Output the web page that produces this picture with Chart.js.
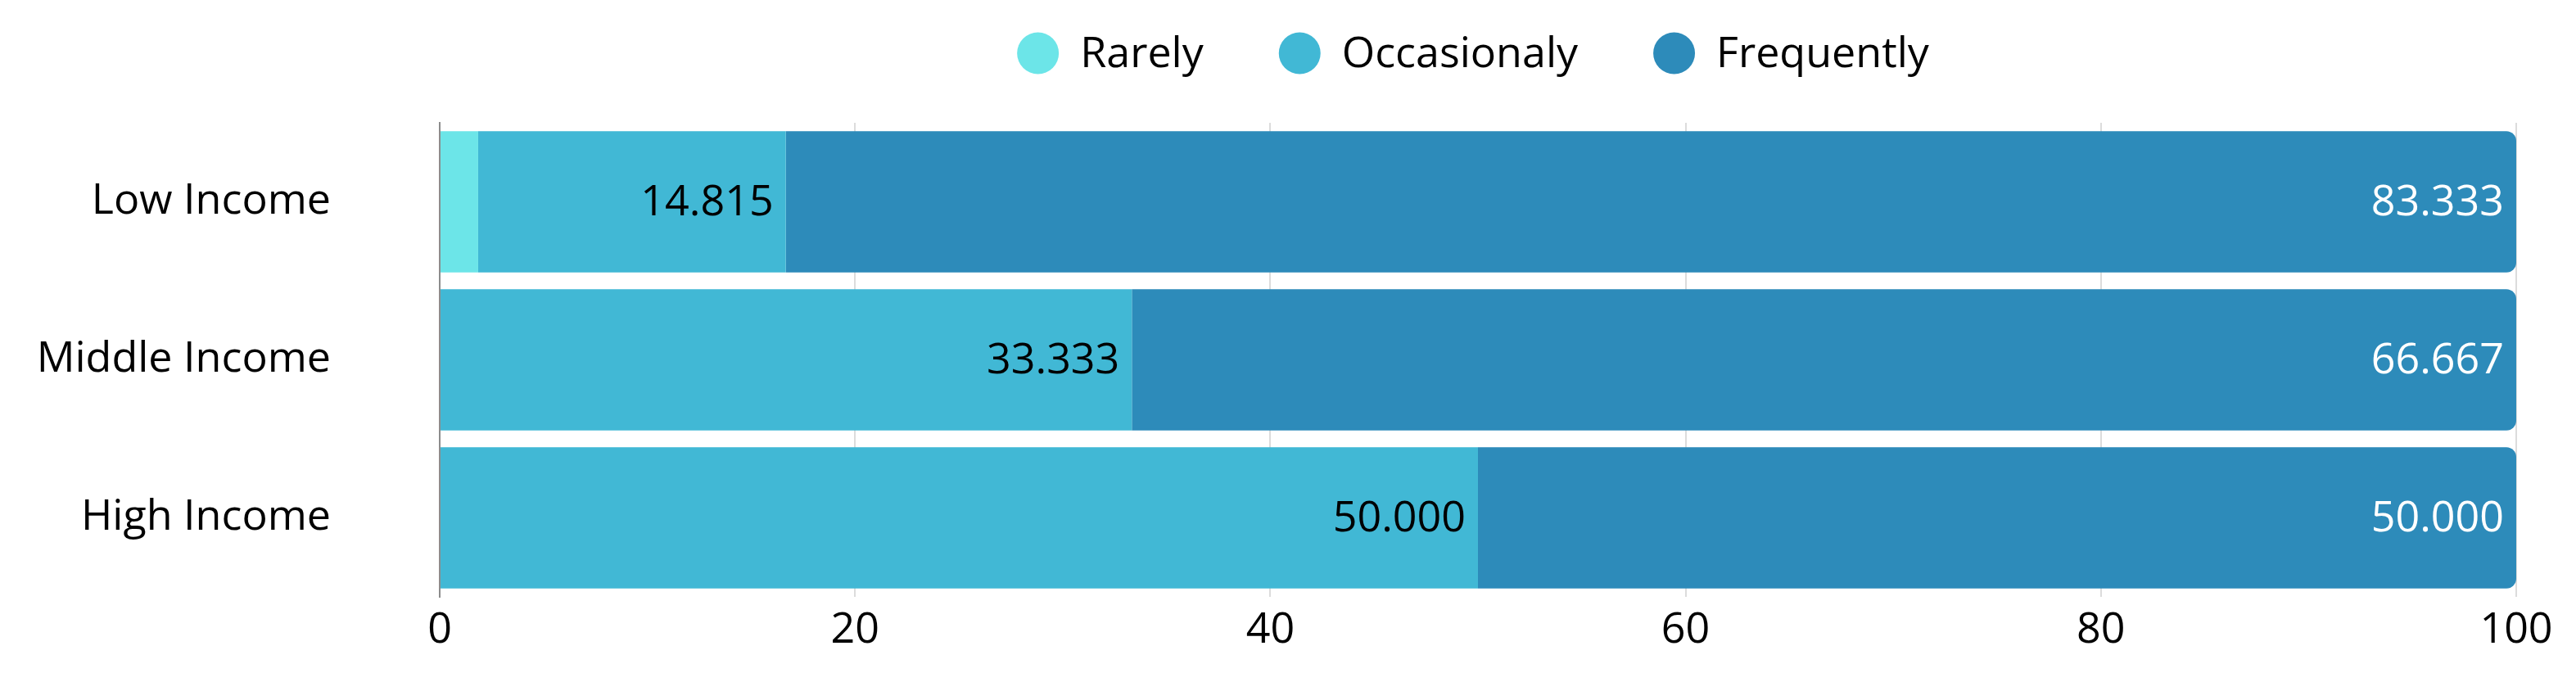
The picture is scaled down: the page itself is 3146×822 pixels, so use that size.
<!DOCTYPE html>
<html>
<head>
<meta charset="utf-8">
<script src="https://cdn.jsdelivr.net/npm/chart.js@4/dist/chart.umd.min.js"></script>
<style>
  html, body { margin: 0; padding: 0; background: #ffffff; }
  #wrap { width: 3146px; height: 822px; }
</style>
</head>
<body>
<div id="wrap"><canvas id="c" width="3146" height="822"></canvas></div>
<script>
const categories = ['Low Income', 'Middle Income', 'High Income'];
const seriesNames = ['Rarely', 'Occasionaly', 'Frequently'];
const rarely = [1.852, 0, 0];
const occasionaly = [14.815, 33.333, 50.000];
const frequently = [83.333, 66.667, 50.000];
const xTicks = [0, 20, 40, 60, 80, 100];

const colors = ['#6CE5E8', '#41B8D5', '#2D8BBA'];
const labelColors = [null, '#000000', '#ffffff'];
const FONT = '"Open Sans", sans-serif';
const FS = 52;

const valueLabels = {
  id: 'valueLabels',
  afterDatasetsDraw(chart) {
    const ctx = chart.ctx;
    ctx.save();
    ctx.font = FS + 'px ' + FONT;
    ctx.textAlign = 'right';
    ctx.textBaseline = 'middle';
    chart.data.datasets.forEach((ds, di) => {
      const col = labelColors[di];
      if (!col) return;
      const meta = chart.getDatasetMeta(di);
      meta.data.forEach((el, i) => {
        const v = ds.data[i];
        if (!v) return;
        ctx.fillStyle = col;
        ctx.fillText(v.toFixed(3), el.x - 15, el.y + 2);
      });
    });
    ctx.restore();
  }
};

const customLegend = {
  id: 'customLegend',
  afterDraw(chart) {
    const ctx = chart.ctx;
    const area = chart.chartArea;
    ctx.save();
    ctx.font = FS + 'px ' + FONT;
    const r = 25.5, gapText = 26, gapItem = 92;
    const items = chart.data.datasets.map(ds => ({
      text: ds.label, color: ds.backgroundColor, w: ctx.measureText(ds.label).width
    }));
    let total = 0;
    items.forEach((it, i) => { total += 2 * r + gapText + it.w + (i < items.length - 1 ? gapItem : 0); });
    let x = (area.left + area.right) / 2 - 6 - total / 2;
    const cy = 65;
    items.forEach(it => {
      ctx.beginPath();
      ctx.fillStyle = it.color;
      ctx.arc(x + r, cy, r, 0, Math.PI * 2);
      ctx.fill();
      ctx.fillStyle = '#000000';
      ctx.textAlign = 'left';
      ctx.textBaseline = 'middle';
      ctx.fillText(it.text, x + 2 * r + gapText, cy + 2);
      x += 2 * r + gapText + it.w + gapItem;
    });
    ctx.restore();
  }
};

const seriesData = [rarely, occasionaly, frequently];

new Chart(document.getElementById('c'), {
  type: 'bar',
  data: {
    labels: categories,
    datasets: seriesNames.map((name, i) => ({
      label: name,
      data: seriesData[i],
      backgroundColor: colors[i],
      borderWidth: 0,
      borderSkipped: false,
      borderRadius: i === 2 ? { topLeft: 0, bottomLeft: 0, topRight: 12, bottomRight: 12 } : 0,
      categoryPercentage: 0.895,
      barPercentage: 1.0
    }))
  },
  options: {
    indexAxis: 'y',
    responsive: false,
    devicePixelRatio: 1,
    animation: false,
    layout: { padding: { top: 150, right: 73, bottom: 0, left: 0 } },
    plugins: {
      legend: { display: false },
      tooltip: { enabled: false }
    },
    scales: {
      x: {
        stacked: true,
        min: 0,
        max: 100,
        afterBuildTicks(scale) { scale.ticks = xTicks.map(v => ({ value: v })); },
        afterFit(scale) { scale.height = 93; },
        grid: { color: '#dcdcdc', lineWidth: 2, drawTicks: false },
        border: { display: false },
        ticks: {
          color: '#000000',
          padding: 10,
          maxRotation: 0,
          font: { family: FONT, size: FS }
        }
      },
      y: {
        stacked: true,
        afterFit(scale) { scale.width = 537; },
        grid: { display: false, drawOnChartArea: false, drawTicks: true, tickLength: 130 },
        border: { display: true, color: '#8c8c8c', width: 2 },
        ticks: {
          color: '#000000',
          padding: 3,
          font: { family: FONT, size: FS }
        }
      }
    }
  },
  plugins: [valueLabels, customLegend]
});
</script>
</body>
</html>
